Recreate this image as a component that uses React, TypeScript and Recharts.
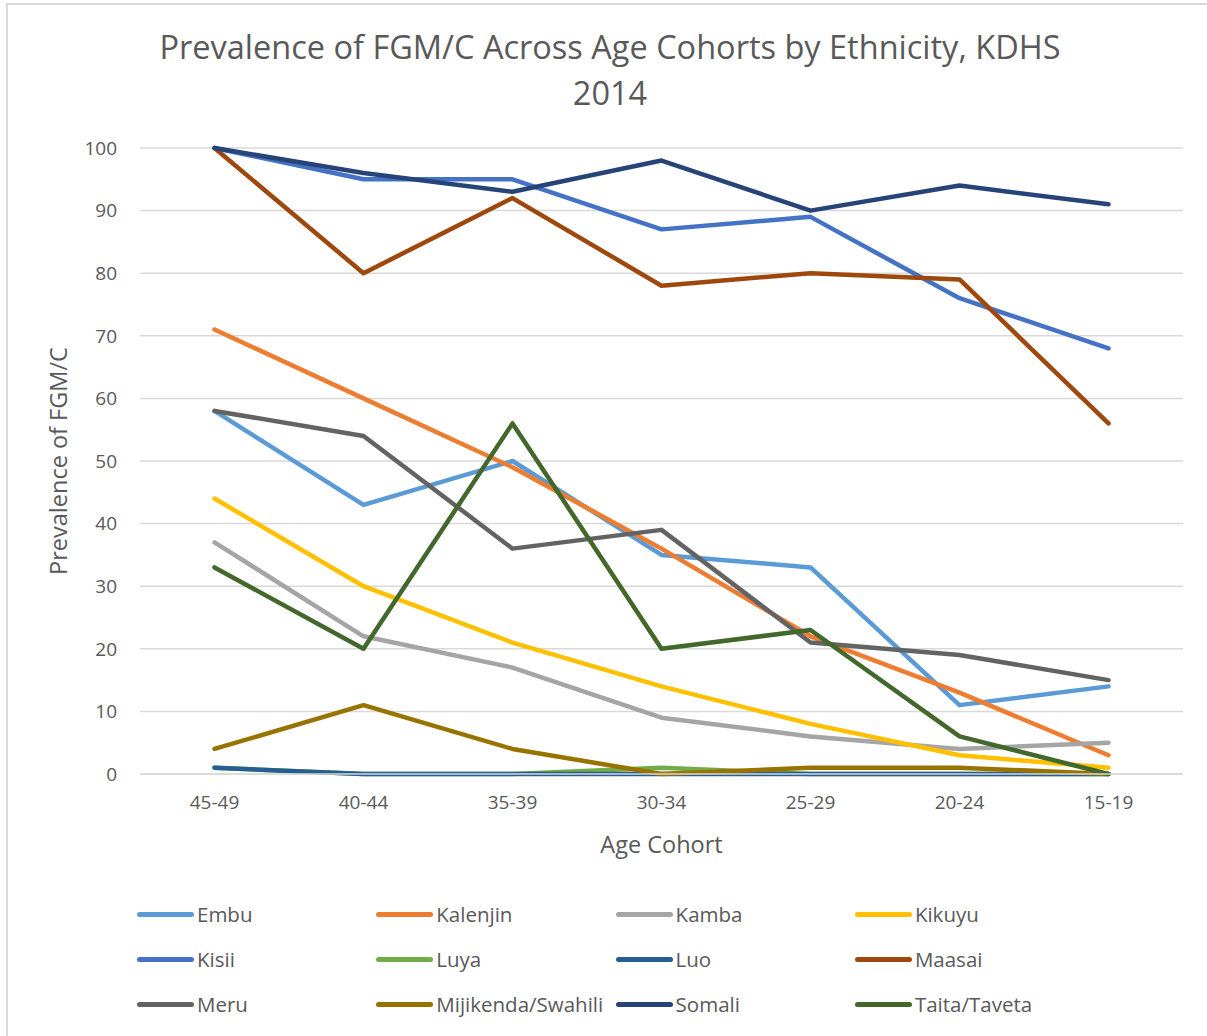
import React from "react";
import { LineChart, Line, XAxis, YAxis, CartesianGrid } from "recharts";

const categories = ["45-49", "40-44", "35-39", "30-34", "25-29", "20-24", "15-19"];
const yTicks = [0, 10, 20, 30, 40, 50, 60, 70, 80, 90, 100];

const embu = [58, 43, 50, 35, 33, 11, 14];
const kalenjin = [71, 60, 49, 36, 22, 13, 3];
const kamba = [37, 22, 17, 9, 6, 4, 5];
const kikuyu = [44, 30, 21, 14, 8, 3, 1];
const kisii = [100, 95, 95, 87, 89, 76, 68];
const luya = [1, 0, 0, 1, 0, 0, 0];
const luo = [1, 0, 0, 0, 0, 0, 0];
const maasai = [100, 80, 92, 78, 80, 79, 56];
const meru = [58, 54, 36, 39, 21, 19, 15];
const mijikenda = [4, 11, 4, 0, 1, 1, 0];
const somali = [100, 96, 93, 98, 90, 94, 91];
const taita = [33, 20, 56, 20, 23, 6, 0];

const series = [
  { key: "Embu", values: embu, color: "#5B9BD5" },
  { key: "Kalenjin", values: kalenjin, color: "#ED7D31" },
  { key: "Kamba", values: kamba, color: "#A5A5A5" },
  { key: "Kikuyu", values: kikuyu, color: "#FFC000" },
  { key: "Kisii", values: kisii, color: "#4472C4" },
  { key: "Luya", values: luya, color: "#70AD47" },
  { key: "Luo", values: luo, color: "#255E91" },
  { key: "Maasai", values: maasai, color: "#9E480E" },
  { key: "Meru", values: meru, color: "#636363" },
  { key: "Mijikenda/Swahili", values: mijikenda, color: "#997300" },
  { key: "Somali", values: somali, color: "#264478" },
  { key: "Taita/Taveta", values: taita, color: "#43682B" },
];

const data = categories.map((c, i) => {
  const row: Record<string, any> = { cohort: c };
  series.forEach((s) => (row[s.key] = s.values[i]));
  return row;
});

const FONT = "'Open Sans', sans-serif";
const TXT = "#595959";

export default function App() {
  return (
    <div style={{ position: "absolute", left: 0, top: 0, width: 1207, height: 1036, overflow: "hidden", background: "#fff", fontFamily: FONT }}>
      <div style={{ position: "absolute", left: 6, top: 3, width: 1220, height: 1060, border: "2px solid #d9d9d9", boxSizing: "border-box" }} />
      <div style={{ position: "absolute", left: 0, top: 0, width: 1220, textAlign: "center", color: TXT, fontSize: 32.5, lineHeight: "46px" }}>
        <div style={{ position: "absolute", left: 60, width: 1100, top: 24 }}>Prevalence of FGM/C Across Age Cohorts by Ethnicity, KDHS</div>
        <div style={{ position: "absolute", left: 60, width: 1100, top: 70 }}>2014</div>
      </div>
      <div style={{ position: "absolute", left: 0, top: 0 }}>
        <LineChart width={1207} height={1036} data={data} margin={{ top: 148, right: 24, left: 60, bottom: 232 }}>
          <CartesianGrid vertical={false} stroke="#d9d9d9" strokeWidth={1.5} />
          <XAxis
            dataKey="cohort"
            height={30}
            padding={{ left: 74.5, right: 74.5 }}
            axisLine={{ stroke: "#d9d9d9", strokeWidth: 1.5 }}
            tickLine={false}
            tickSize={0}
            tickMargin={22}
            tick={{ fill: TXT, fontSize: 19, fontFamily: FONT }}
            interval={0}
            label={(props: any) => {
              const vb = props.viewBox;
              return (
                <text x={vb.x + vb.width / 2} y={vb.y + 70} textAnchor="middle" dominantBaseline="central" fill={TXT} fontSize={23.5} fontFamily={FONT}>
                  Age Cohort
                </text>
              );
            }}
          />
          <YAxis
            width={80}
            domain={[0, 100]}
            ticks={yTicks}
            axisLine={false}
            tickLine={false}
            tickSize={0}
            tickMargin={23}
            tick={{ fill: TXT, fontSize: 19, fontFamily: FONT }}
            label={(props: any) => {
              const vb = props.viewBox;
              const cx = vb.x - 2;
              const cy = vb.y + vb.height / 2;
              return (
                <text x={cx} y={cy} transform={`rotate(-90 ${cx} ${cy})`} textAnchor="middle" dominantBaseline="central" fill={TXT} fontSize={23.5} fontFamily={FONT}>
                  Prevalence of FGM/C
                </text>
              );
            }}
          />
          {series.map((s) => (
            <Line
              key={s.key}
              type="linear"
              dataKey={s.key}
              stroke={s.color}
              strokeWidth={4.5}
              strokeLinecap="round"
              strokeLinejoin="round"
              dot={false}
              activeDot={false}
              isAnimationActive={false}
            />
          ))}
        </LineChart>
      </div>
      {series.map((s, i) => {
        const col = i % 4;
        const row = Math.floor(i / 4);
        const left = 137 + col * 239.3;
        const top = 914 + row * 45;
        return (
          <div key={s.key} style={{ position: "absolute", left, top: top - 15, height: 30, display: "flex", alignItems: "center", color: TXT, fontSize: 20.5, whiteSpace: "nowrap" }}>
            <div style={{ width: 57, height: 5, borderRadius: 3, background: s.color, marginRight: 3 }} />
            <span>{s.key}</span>
          </div>
        );
      })}
    </div>
  );
}
